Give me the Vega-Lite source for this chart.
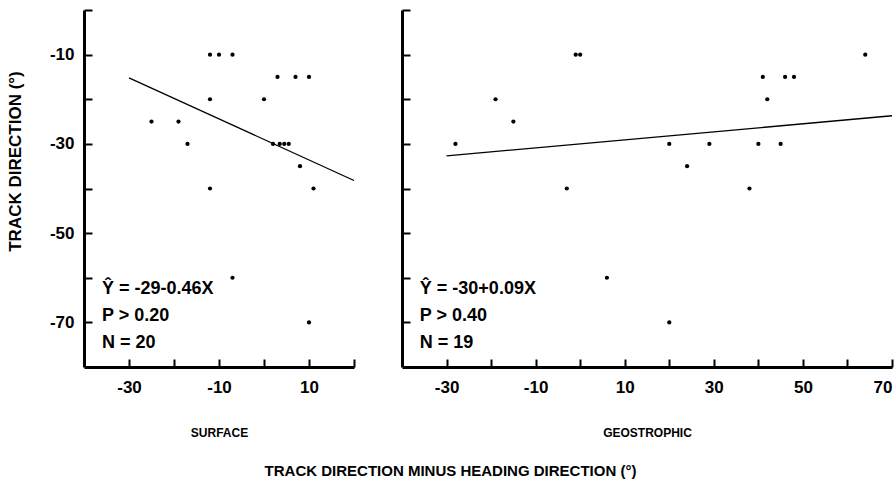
{
  "$schema": "https://vega.github.io/schema/vega-lite/v6.json",
  "padding": {"left": 6, "top": 9, "right": 0, "bottom": 5},
  "spacing": 44,
  "background": "white",
  "title": {"text": "TRACK DIRECTION MINUS HEADING DIRECTION (°)", "orient": "bottom", "anchor": "middle", "font": "Liberation Sans", "fontSize": 15, "fontWeight": "bold", "color": "black", "offset": 26},
  "datasets": {
    "surface": [
      {"x": -25, "y": -25}, {"x": -19, "y": -25}, {"x": -17, "y": -30},
      {"x": -12, "y": -10}, {"x": -10, "y": -10}, {"x": -7, "y": -10},
      {"x": -12, "y": -20}, {"x": -12, "y": -40}, {"x": 0, "y": -20},
      {"x": 3, "y": -15}, {"x": 7, "y": -15}, {"x": 10, "y": -15},
      {"x": 2, "y": -30}, {"x": 3.5, "y": -30}, {"x": 4.5, "y": -30}, {"x": 5.5, "y": -30},
      {"x": 8, "y": -35}, {"x": 11, "y": -40}, {"x": -7, "y": -60}, {"x": 10, "y": -70}
    ],
    "surfaceFit": [{"x": -30, "y": -15.2}, {"x": 20, "y": -38.2}],
    "surfaceNote": [
      {"x": -36, "y": -63.6, "label": "Ŷ = -29-0.46X"},
      {"x": -36, "y": -69.7, "label": "P > 0.20"},
      {"x": -36, "y": -75.7, "label": "N = 20"}
    ],
    "geo": [
      {"x": -28, "y": -30}, {"x": -19, "y": -20}, {"x": -15, "y": -25},
      {"x": -1, "y": -10}, {"x": 0, "y": -10}, {"x": -3, "y": -40},
      {"x": 20, "y": -30}, {"x": 24, "y": -35}, {"x": 29, "y": -30},
      {"x": 38, "y": -40}, {"x": 40, "y": -30}, {"x": 41, "y": -15},
      {"x": 42, "y": -20}, {"x": 45, "y": -30}, {"x": 46, "y": -15},
      {"x": 48, "y": -15}, {"x": 64, "y": -10}, {"x": 6, "y": -60}, {"x": 20, "y": -70}
    ],
    "geoFit": [{"x": -30, "y": -32.7}, {"x": 70, "y": -23.7}],
    "geoNote": [
      {"x": -36, "y": -63.6, "label": "Ŷ = -30+0.09X"},
      {"x": -36, "y": -69.7, "label": "P > 0.40"},
      {"x": -36, "y": -75.7, "label": "N = 19"}
    ]
  },
  "hconcat": [
    {
      "width": 270,
      "height": 357,
      "layer": [
        {
          "data": {"name": "surface"},
          "mark": {"type": "circle", "size": 18, "color": "black", "opacity": 1},
          "encoding": {
            "x": {"field": "x", "type": "quantitative",
                  "scale": {"domain": [-40, 20], "nice": false, "zero": false},
                  "axis": {"values": [-30, -20, -10, 0, 10, 20],
                           "labelExpr": "abs(datum.value % 20) == 10 ? (datum.value < 0 ? '-' + abs(datum.value) : '' + datum.value) : ''",
                           "title": "SURFACE", "titleFontSize": 12, "titlePadding": 32}},
            "y": {"field": "y", "type": "quantitative",
                  "scale": {"domain": [-80, 0], "nice": false, "zero": false},
                  "axis": {"values": [0, -10, -20, -30, -40, -50, -60, -70],
                           "labelExpr": "abs(datum.value % 20) == 10 ? (datum.value < 0 ? '-' + abs(datum.value) : '' + datum.value) : ''",
                           "labelPadding": 18,
                           "title": "TRACK DIRECTION (°)", "titleFontSize": 17, "titlePadding": 25, "titleY": 151}}
          }
        },
        {
          "data": {"name": "surfaceFit"},
          "mark": {"type": "line", "color": "black", "strokeWidth": 1.3},
          "encoding": {
            "x": {"field": "x", "type": "quantitative"},
            "y": {"field": "y", "type": "quantitative"}
          }
        },
        {
          "data": {"name": "surfaceNote"},
          "mark": {"type": "text", "align": "left", "baseline": "alphabetic", "font": "Liberation Sans", "fontSize": 18, "fontWeight": "bold", "color": "black"},
          "encoding": {
            "x": {"field": "x", "type": "quantitative"},
            "y": {"field": "y", "type": "quantitative"},
            "text": {"field": "label"}
          }
        }
      ]
    },
    {
      "width": 490,
      "height": 357,
      "layer": [
        {
          "data": {"name": "geo"},
          "mark": {"type": "circle", "size": 18, "color": "black", "opacity": 1},
          "encoding": {
            "x": {"field": "x", "type": "quantitative",
                  "scale": {"domain": [-40, 70], "nice": false, "zero": false},
                  "axis": {"values": [-30, -20, -10, 0, 10, 20, 30, 40, 50, 60, 70],
                           "labelExpr": "abs(datum.value % 20) == 10 ? (datum.value < 0 ? '-' + abs(datum.value) : '' + datum.value) : ''",
                           "title": "GEOSTROPHIC", "titleFontSize": 12, "titlePadding": 32}},
            "y": {"field": "y", "type": "quantitative",
                  "scale": {"domain": [-80, 0], "nice": false, "zero": false},
                  "axis": {"values": [0, -10, -20, -30, -40, -50, -60, -70],
                           "labels": false, "title": null}}
          }
        },
        {
          "data": {"name": "geoFit"},
          "mark": {"type": "line", "color": "black", "strokeWidth": 1.3},
          "encoding": {
            "x": {"field": "x", "type": "quantitative"},
            "y": {"field": "y", "type": "quantitative"}
          }
        },
        {
          "data": {"name": "geoNote"},
          "mark": {"type": "text", "align": "left", "baseline": "alphabetic", "font": "Liberation Sans", "fontSize": 18, "fontWeight": "bold", "color": "black"},
          "encoding": {
            "x": {"field": "x", "type": "quantitative"},
            "y": {"field": "y", "type": "quantitative"},
            "text": {"field": "label"}
          }
        }
      ]
    }
  ],
  "config": {
    "view": {"stroke": null},
    "axis": {
      "grid": false,
      "domainColor": "black",
      "domainWidth": 3,
      "tickColor": "black",
      "tickWidth": 2,
      "tickSize": -8,
      "labelFont": "Liberation Sans",
      "labelFontSize": 17,
      "labelFontWeight": "bold",
      "labelColor": "black",
      "labelPadding": 20,
      "titleFont": "Liberation Sans",
      "titleFontWeight": "bold",
      "titleColor": "black"
    }
  }
}
